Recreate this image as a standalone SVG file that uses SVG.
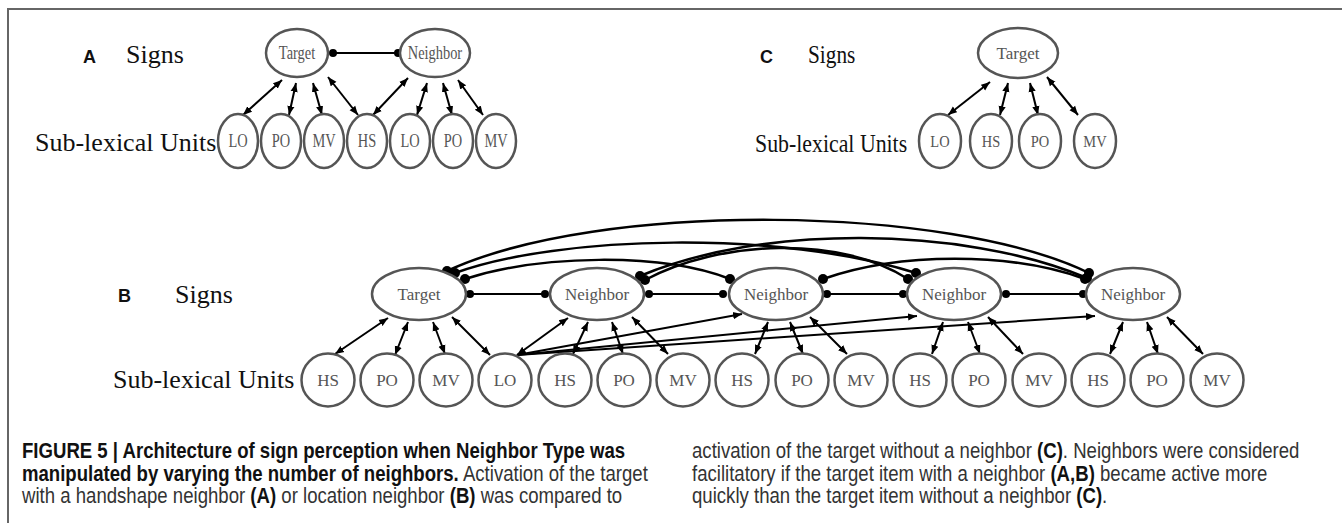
<svg xmlns="http://www.w3.org/2000/svg" width="1342" height="523" viewBox="0 0 1342 523">
<style>
.node{fill:#fff;stroke:#555;stroke-width:2.5}
.nt{font-family:"Liberation Serif","Times New Roman",serif;fill:#555;text-anchor:middle}
.lab{font-family:"Liberation Serif","Times New Roman",serif;font-size:26px;fill:#111}
.pl{font-family:"Liberation Sans",Arial,sans-serif;font-size:18px;font-weight:bold;fill:#111}
.e{fill:none;stroke:#000;stroke-width:2}
.d{marker-start:url(#ah);marker-end:url(#ah)}
.s{marker-end:url(#ah)}
.h{marker-start:url(#dot);marker-end:url(#dot)}
.a{marker-start:url(#bdot);marker-end:url(#bdot);stroke-width:2.5}
.cap{font-family:"Liberation Sans",Arial,sans-serif;font-size:22px;fill:#333}
.b{font-weight:bold;fill:#111}
</style>
<defs>
<marker id="ah" viewBox="0 0 10 10" refX="10" refY="5" markerWidth="9" markerHeight="9" markerUnits="userSpaceOnUse" orient="auto-start-reverse"><path d="M0,1 L10,5 L0,9 z" fill="#000"/></marker>
<marker id="dot" viewBox="0 0 10 10" refX="5" refY="5" markerWidth="8" markerHeight="8" markerUnits="userSpaceOnUse"><circle cx="5" cy="5" r="5" fill="#000"/></marker>
<marker id="bdot" viewBox="0 0 10 10" refX="5" refY="5" markerWidth="10" markerHeight="10" markerUnits="userSpaceOnUse"><circle cx="5" cy="5" r="5" fill="#000"/></marker>
</defs>
<rect width="1342" height="523" fill="#fff"/>
<path d="M8,523 V9 H1342" fill="none" stroke="#666" stroke-width="2"/>

<text class="pl" x="83" y="63">A</text>
<text class="lab" x="126" y="63">Signs</text>
<text class="lab" x="35" y="151">Sub-lexical Units</text>
<text class="pl" x="760" y="63">C</text>
<text class="lab" transform="translate(808,63) scale(0.82,1)">Signs</text>
<text class="lab" transform="translate(755,152) scale(0.84,1)">Sub-lexical Units</text>
<text class="pl" x="118" y="302">B</text>
<text class="lab" x="175" y="303">Signs</text>
<text class="lab" x="113" y="388">Sub-lexical Units</text>

<g id="connectors">
<line class="e h" x1="333" y1="53" x2="398" y2="53"/>
<line class="e d" x1="282" y1="80" x2="243" y2="115"/>
<line class="e d" x1="296" y1="83" x2="289" y2="115"/>
<line class="e d" x1="313" y1="83" x2="322" y2="115"/>
<line class="e d" x1="328" y1="77" x2="358" y2="115"/>
<line class="e d" x1="408" y1="78" x2="373" y2="115"/>
<line class="e d" x1="427" y1="83" x2="417" y2="115"/>
<line class="e d" x1="443" y1="83" x2="452" y2="115"/>
<line class="e d" x1="458" y1="80" x2="483" y2="115"/>
<line class="e d" x1="990" y1="82" x2="948" y2="115"/>
<line class="e d" x1="1008" y1="83" x2="1000" y2="115"/>
<line class="e d" x1="1030" y1="83" x2="1038" y2="115"/>
<line class="e d" x1="1047" y1="77" x2="1078" y2="115"/>
<line class="e h" x1="470" y1="294" x2="545" y2="294"/>
<line class="e h" x1="649" y1="294" x2="723" y2="294"/>
<line class="e h" x1="827" y1="294" x2="903" y2="294"/>
<line class="e h" x1="1006" y1="294" x2="1083" y2="294"/>
<path class="e a" d="M447,271 C600,200 950,205 1089,273"/>
<path class="e a" d="M455,273 C560,235 780,230 916,273"/>
<path class="e a" d="M465,279 C540,255 660,252 730,279"/>
<path class="e a" d="M645,280 C720,240 840,235 908,279"/>
<path class="e a" d="M640,276 C760,225 960,225 1087,278"/>
<path class="e a" d="M823,279 C900,252 1010,252 1085,279"/>
<line class="e d" x1="388" y1="318" x2="335" y2="354"/>
<line class="e d" x1="408" y1="322" x2="395" y2="355"/>
<line class="e d" x1="433" y1="322" x2="445" y2="354"/>
<line class="e d" x1="452" y1="317" x2="490" y2="355"/>
<line class="e d" x1="568" y1="318" x2="517" y2="355"/>
<line class="e d" x1="588" y1="322" x2="573" y2="354"/>
<line class="e d" x1="612" y1="322" x2="623" y2="354"/>
<line class="e d" x1="632" y1="317" x2="668" y2="354"/>
<line class="e d" x1="768" y1="322" x2="755" y2="354"/>
<line class="e d" x1="790" y1="322" x2="803" y2="354"/>
<line class="e d" x1="810" y1="317" x2="847" y2="354"/>
<line class="e d" x1="943" y1="322" x2="932" y2="354"/>
<line class="e d" x1="968" y1="322" x2="980" y2="354"/>
<line class="e d" x1="988" y1="317" x2="1023" y2="354"/>
<line class="e d" x1="1123" y1="322" x2="1110" y2="354"/>
<line class="e d" x1="1147" y1="322" x2="1158" y2="354"/>
<line class="e d" x1="1167" y1="317" x2="1203" y2="354"/>
<line class="e s" x1="517" y1="355" x2="742" y2="314"/>
<line class="e s" x1="517" y1="355" x2="917" y2="316"/>
<line class="e s" x1="517" y1="355" x2="1095" y2="316"/>
</g>

<g id="a-target"><ellipse class="node" cx="297" cy="53" rx="31" ry="24"/><text class="nt" font-size="18" transform="translate(297,59) scale(0.8,1)">Target</text></g>
<g id="a-neighbor"><ellipse class="node" cx="435" cy="53" rx="35" ry="24"/><text class="nt" font-size="18" transform="translate(435,59) scale(0.8,1)">Neighbor</text></g>
<g id="a-lo1"><ellipse class="node" cx="238" cy="141" rx="20" ry="27"/><text class="nt" font-size="18" transform="translate(238,147) scale(0.8,1)">LO</text></g>
<g id="a-po1"><ellipse class="node" cx="281" cy="141" rx="20" ry="27"/><text class="nt" font-size="18" transform="translate(281,147) scale(0.8,1)">PO</text></g>
<g id="a-mv1"><ellipse class="node" cx="324" cy="141" rx="20" ry="27"/><text class="nt" font-size="18" transform="translate(324,147) scale(0.8,1)">MV</text></g>
<g id="a-hs"><ellipse class="node" cx="367" cy="141" rx="20" ry="27"/><text class="nt" font-size="18" transform="translate(367,147) scale(0.8,1)">HS</text></g>
<g id="a-lo2"><ellipse class="node" cx="410" cy="141" rx="20" ry="27"/><text class="nt" font-size="18" transform="translate(410,147) scale(0.8,1)">LO</text></g>
<g id="a-po2"><ellipse class="node" cx="453" cy="141" rx="20" ry="27"/><text class="nt" font-size="18" transform="translate(453,147) scale(0.8,1)">PO</text></g>
<g id="a-mv2"><ellipse class="node" cx="496" cy="141" rx="20" ry="27"/><text class="nt" font-size="18" transform="translate(496,147) scale(0.8,1)">MV</text></g>

<g id="c-target"><ellipse class="node" cx="1018" cy="53" rx="40" ry="25"/><text class="nt" font-size="17" x="1018" y="59">Target</text></g>
<g id="c-lo"><ellipse class="node" cx="940" cy="141" rx="21" ry="27"/><text class="nt" font-size="17" transform="translate(940,147) scale(0.85,1)">LO</text></g>
<g id="c-hs"><ellipse class="node" cx="991" cy="141" rx="21" ry="27"/><text class="nt" font-size="17" transform="translate(991,147) scale(0.85,1)">HS</text></g>
<g id="c-po"><ellipse class="node" cx="1040" cy="141" rx="21" ry="27"/><text class="nt" font-size="17" transform="translate(1040,147) scale(0.85,1)">PO</text></g>
<g id="c-mv"><ellipse class="node" cx="1095" cy="141" rx="21" ry="27"/><text class="nt" font-size="17" transform="translate(1095,147) scale(0.85,1)">MV</text></g>

<g id="b-target"><ellipse class="node" cx="419" cy="294" rx="47" ry="26"/><text class="nt" font-size="17" x="419" y="300">Target</text></g>
<g id="b-n1"><ellipse class="node" cx="597" cy="294" rx="47" ry="26"/><text class="nt" font-size="17" x="597" y="300">Neighbor</text></g>
<g id="b-n2"><ellipse class="node" cx="776" cy="294" rx="47" ry="26"/><text class="nt" font-size="17" x="776" y="300">Neighbor</text></g>
<g id="b-n3"><ellipse class="node" cx="954" cy="294" rx="47" ry="26"/><text class="nt" font-size="17" x="954" y="300">Neighbor</text></g>
<g id="b-n4"><ellipse class="node" cx="1133" cy="294" rx="47" ry="26"/><text class="nt" font-size="17" x="1133" y="300">Neighbor</text></g>
<g id="b-hs1"><circle class="node" cx="328" cy="380" r="26.5"/><text class="nt" font-size="17" x="328" y="386">HS</text></g>
<g id="b-po1"><circle class="node" cx="387" cy="380" r="26.5"/><text class="nt" font-size="17" x="387" y="386">PO</text></g>
<g id="b-mv1"><circle class="node" cx="446" cy="380" r="26.5"/><text class="nt" font-size="17" x="446" y="386">MV</text></g>
<g id="b-lo"><circle class="node" cx="505" cy="380" r="26.5"/><text class="nt" font-size="17" x="505" y="386">LO</text></g>
<g id="b-hs2"><circle class="node" cx="565" cy="380" r="26.5"/><text class="nt" font-size="17" x="565" y="386">HS</text></g>
<g id="b-po2"><circle class="node" cx="624" cy="380" r="26.5"/><text class="nt" font-size="17" x="624" y="386">PO</text></g>
<g id="b-mv2"><circle class="node" cx="683" cy="380" r="26.5"/><text class="nt" font-size="17" x="683" y="386">MV</text></g>
<g id="b-hs3"><circle class="node" cx="742" cy="380" r="26.5"/><text class="nt" font-size="17" x="742" y="386">HS</text></g>
<g id="b-po3"><circle class="node" cx="802" cy="380" r="26.5"/><text class="nt" font-size="17" x="802" y="386">PO</text></g>
<g id="b-mv3"><circle class="node" cx="861" cy="380" r="26.5"/><text class="nt" font-size="17" x="861" y="386">MV</text></g>
<g id="b-hs4"><circle class="node" cx="920" cy="380" r="26.5"/><text class="nt" font-size="17" x="920" y="386">HS</text></g>
<g id="b-po4"><circle class="node" cx="979" cy="380" r="26.5"/><text class="nt" font-size="17" x="979" y="386">PO</text></g>
<g id="b-mv4"><circle class="node" cx="1039" cy="380" r="26.5"/><text class="nt" font-size="17" x="1039" y="386">MV</text></g>
<g id="b-hs5"><circle class="node" cx="1098" cy="380" r="26.5"/><text class="nt" font-size="17" x="1098" y="386">HS</text></g>
<g id="b-po5"><circle class="node" cx="1157" cy="380" r="26.5"/><text class="nt" font-size="17" x="1157" y="386">PO</text></g>
<g id="b-mv5"><circle class="node" cx="1217" cy="380" r="26.5"/><text class="nt" font-size="17" x="1217" y="386">MV</text></g>

<g id="caption">
<text class="cap" transform="translate(22,458) scale(0.845,1)"><tspan class="b">FIGURE 5 | Architecture of sign perception when Neighbor Type was</tspan></text>
<text class="cap" transform="translate(22,481) scale(0.845,1)"><tspan class="b">manipulated by varying the number of neighbors.</tspan> Activation of the target</text>
<text class="cap" transform="translate(22,503) scale(0.845,1)">with a handshape neighbor <tspan class="b">(A)</tspan> or location neighbor <tspan class="b">(B)</tspan> was compared to</text>
<text class="cap" transform="translate(692,458) scale(0.845,1)">activation of the target without a neighbor <tspan class="b">(C)</tspan>. Neighbors were considered</text>
<text class="cap" transform="translate(692,481) scale(0.845,1)">facilitatory if the target item with a neighbor <tspan class="b">(A,B)</tspan> became active more</text>
<text class="cap" transform="translate(692,503) scale(0.845,1)">quickly than the target item without a neighbor <tspan class="b">(C)</tspan>.</text>
</g>
</svg>
